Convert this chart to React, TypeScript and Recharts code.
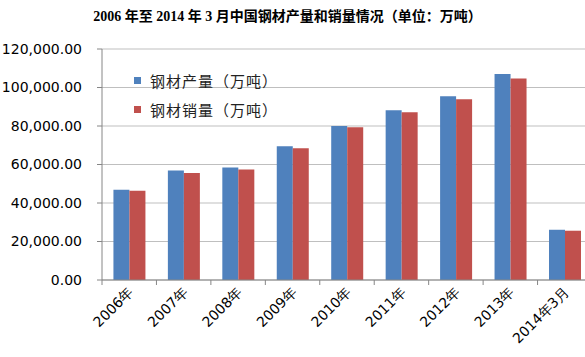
import React from 'react';
import { BarChart, Bar, XAxis, YAxis, CartesianGrid } from 'recharts';

const categories = ['2006年', '2007年', '2008年', '2009年', '2010年', '2011年', '2012年', '2013年', '2014年3月'];
const output = [46900, 56900, 58400, 69500, 80000, 88200, 95500, 107000, 26100];
const sales = [46400, 55600, 57400, 68500, 79300, 87100, 93900, 104700, 25600];
const yTicks = [0, 20000, 40000, 60000, 80000, 100000, 120000];
const legendItems = [
    { label: '钢材产量（万吨）', key: 'output' },
    { label: '钢材销量（万吨）', key: 'sales' },
];

const BLUE = '#4F81BD';
const RED = '#C0504D';
const tickFont = '"DejaVu Sans", Verdana, sans-serif';

const data = categories.map((name, i) => ({ name, output: output[i], sales: sales[i] }));

const fmt = (v: number) =>
    v.toLocaleString('en-US', { minimumFractionDigits: 2, maximumFractionDigits: 2 });

// Excel-style category tick: tick mark on the band boundary, rotated label
const CategoryTick = (props: any) => {
    const { x, y, payload } = props;
    const half = payload?.offset ?? 27.2;
    const tx = x + 5;
    const ty = y + 13;
    return (
        <g>
            <line x1={x - half} x2={x - half} y1={y} y2={y + 5} stroke="#868686" />
            <text
                x={tx}
                y={ty}
                transform={`rotate(-45, ${tx}, ${ty})`}
                textAnchor="end"
                fontSize={14}
                fontFamily={tickFont}
                fill="#000"
            >
                {payload.value}
            </text>
        </g>
    );
};

export default function App() {
    return (
        <div style={{ position: 'absolute', left: 0, top: 0, width: 585, height: 357, background: '#fff' }}>
            <div
                style={{
                    position: 'absolute',
                    left: 0,
                    top: 5,
                    width: 575,
                    textAlign: 'center',
                    fontFamily: '"Liberation Serif", "Noto Sans CJK SC", serif',
                    fontWeight: 'bold',
                    fontSize: 14,
                    color: '#000',
                }}
            >
                2006 年至 2014 年 3 月中国钢材产量和销量情况（单位：万吨）
            </div>
            <BarChart
                width={585}
                height={357}
                data={data}
                margin={{ top: 49, right: -7, bottom: 0, left: 0 }}
                barCategoryGap="21%"
                barGap={0}
            >
                <CartesianGrid vertical={false} stroke="#BFBFBF" />
                <XAxis
                    dataKey="name"
                    height={77}
                    interval={0}
                    tickSize={0}
                    tickMargin={0}
                    tickLine={false}
                    axisLine={{ stroke: '#868686' }}
                    tick={<CategoryTick />}
                />
                <YAxis
                    width={102}
                    domain={[0, 120000]}
                    ticks={yTicks}
                    tickFormatter={fmt}
                    tickSize={5}
                    tickMargin={15}
                    axisLine={{ stroke: '#868686' }}
                    tickLine={{ stroke: '#868686' }}
                    tick={{ fontSize: 14, fontFamily: tickFont, fill: '#000' }}
                />
                <Bar dataKey="output" fill={BLUE} isAnimationActive={false} />
                <Bar dataKey="sales" fill={RED} isAnimationActive={false} />
            </BarChart>
            <div style={{ position: 'absolute', left: 134, top: 66 }}>
                {legendItems.map(item => (
                    <div key={item.key} style={{ display: 'flex', alignItems: 'center', height: 29 }}>
                        <span
                            style={{
                                width: 7,
                                height: 7,
                                background: item.key === 'output' ? BLUE : RED,
                                marginRight: 9,
                            }}
                        />
                        <span
                            style={{
                                fontFamily: '"Noto Sans CJK SC", sans-serif',
                                fontSize: 15,
                                color: '#222',
                                letterSpacing: 1,
                            }}
                        >
                            {item.label}
                        </span>
                    </div>
                ))}
            </div>
        </div>
    );
}
